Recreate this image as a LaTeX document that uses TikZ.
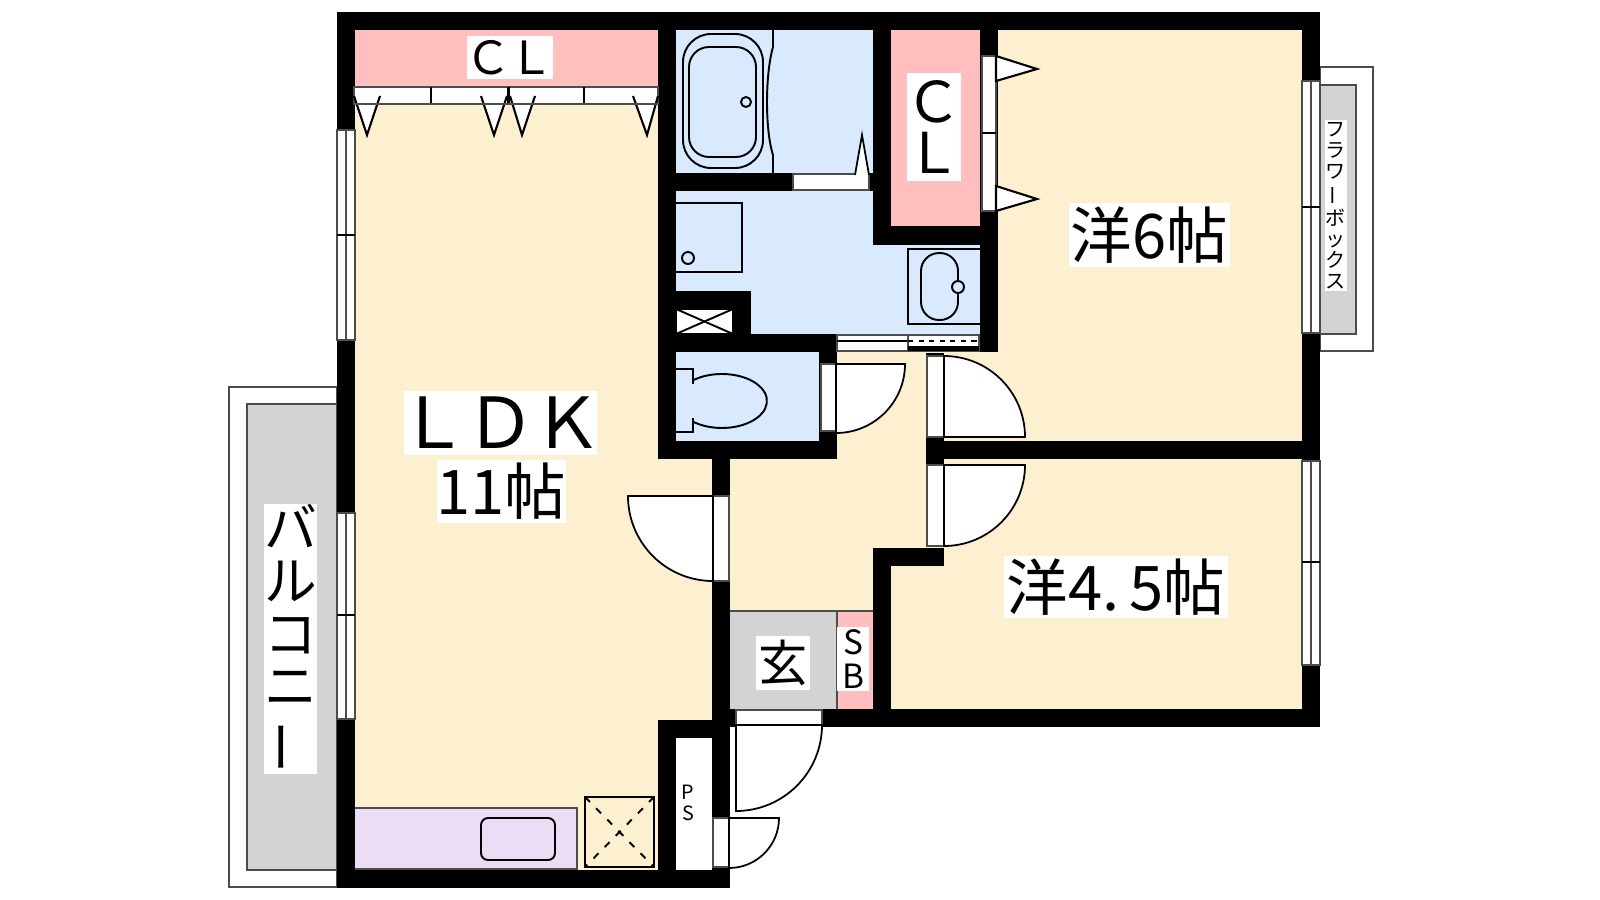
\documentclass[tikz,border=0pt]{standalone}
\usepackage{fontspec}
\setmainfont{Noto Sans CJK JP}
\usepackage{tikz}
\tikzstyle{wall} = [fill=black]
\tikzstyle{room} = [fill=roomcream]
\tikzstyle{thing} = [draw=black, line width=0.55pt]
\tikzstyle{frame} = [draw=black!70, line width=0.5pt, fill=white]
\tikzstyle{leaf} = [draw=black, line width=0.5pt, fill=white]
\tikzstyle{tag} = [fill=white, inner sep=0pt, align=center, text=black]
\definecolor{roomcream}{HTML}{FDF0D0}
\definecolor{wetblue}{HTML}{D9EAFF}
\definecolor{closetpink}{HTML}{FFBFBF}
\definecolor{floorgray}{HTML}{D3D3D3}
\definecolor{kitchenlilac}{HTML}{ECDDF6}
\newcommand{\sized}[2]{\fontsize{#1}{#2}\selectfont}
\newcommand{\tatebar}{\rotatebox[origin=c]{90}{ー}}
\begin{document}
\begin{tikzpicture}[x=0.01cm,y=-0.01cm]
		\useasboundingbox (0,0) rectangle (1600,900);
		% floors
		\foreach \xa/\ya/\xb/\yb in {355/30/712/870, 730/459/926/611, 837/352/998/441, 837/441/926/548, 998/30/1302/441, 891/459/1302/709, 926/459/1302/548}
			\fill [room] (\xa,\ya) rectangle (\xb,\yb);
		\fill [white] (676,738) rectangle (712,870);
		\fill [closetpink] (355,30) rectangle (658,87);
		\fill [closetpink] (891,30) rectangle (980,226);
		\fill [closetpink] (837,611) rectangle (873,709);
		\fill [wetblue] (676,30) rectangle (873,173);
		\fill [wetblue] (676,191) rectangle (873,334);
		\fill [wetblue] (873,245) rectangle (980,334);
		\fill [wetblue] (676,352) rectangle (819,441);
		\fill [floorgray] (730,611) rectangle (837,709);
		\draw [thing, line width=0.4pt, draw=black!70] (730,611) -- (873,611);
		\draw [thing, line width=0.4pt, draw=black!70] (837,611) -- (837,709);
		% balcony and flower box
		\draw [frame] (229,387) rectangle (337,887);
		\draw [frame, fill=floorgray] (247,404) rectangle (337,870);
		\draw [frame] (1320,67) rectangle (1373,351);
		\draw [frame, fill=floorgray] (1320,85) rectangle (1356,334);
		% walls
		\foreach \xa/\ya/\xb/\yb in {337/12/1320/30, 337/12/355/888, 1302/12/1320/727, 822/709/1320/727, 712/709/736/727, 337/870/730/888, 658/12/676/459, 658/441/837/459, 712/459/730/888, 676/173/873/191, 873/12/891/245, 873/226/980/245, 980/12/998/352, 676/291/751/352, 658/334/837/352, 819/352/837/459, 926/441/1320/459, 926/353/944/356, 926/437/944/465, 873/548/944/566, 873/548/891/727, 658/720/712/738, 658/720/676/888}
			\fill [wall] (\xa,\ya) rectangle (\xb,\yb);
		% sash windows
		\foreach \xa/\ya/\ym/\yb in {337/130/235/340, 337/513/615/719, 1302/81/207/333, 1302/461/562/665} {
			\draw [frame] (\xa,\ya) rectangle (\xa+18,\yb);
			\draw [frame] (\xa+9,\ya) -- (\xa+9,\yb);
			\draw [thing] (\xa,\ym) -- (\xa+18,\ym);
		}
		% closet doors
		\draw [frame] (354,87) rectangle (658,104);
		\draw [thing] (431,87) -- (431,104);
		\draw [thing] (584,87) -- (584,104);
		\fill [wall] (507,87) rectangle (510,104);
		\foreach \xa/\xb/\xc in {354/367/380, 481/494/507, 510/522/535, 633/647/658}
			\draw [leaf, line width=0.6pt] (\xa,96) -- (\xb,135) -- (\xc,96);
		\draw [thing, draw=black!70] (354,104) -- (658,104);
		\draw [frame] (982,56) rectangle (996,211);
		\draw [thing] (982,133) -- (996,133);
		\foreach \ya/\yb/\yc in {56/69/81, 186/199/211}
			\draw [leaf, line width=0.6pt] (996,\ya) -- (1037,\yb) -- (996,\yc) -- cycle;
		% bath
		\draw [thing, rounded corners=0.28cm] (683,34) rectangle (763,168);
		\draw [thing, rounded corners=0.2cm] (689,47) rectangle (756,157);
		\draw [thing] (746,102) circle (5);
		\draw [thing] (773,30) -- (773,47) .. controls (765,75) and (765,130) .. (773,155) -- (773,173);
		\draw [frame] (793,174) rectangle (869,190);
		\draw [leaf] (855,175) -- (862,135) -- (869,175);
		% washroom
		\draw [thing] (676,203) -- (742,203) -- (742,272) -- (676,272);
		\draw [thing] (688,258) circle (6);
		\draw [thing, fill=white] (676,309) rectangle (733,334);
		\draw [thing] (676,334) -- (733,309);
		\draw [thing] (676,309) -- (733,334);
		\draw [thing] (980,249) -- (908,249) -- (908,324) -- (980,324);
		\draw [thing, rounded corners=0.18cm] (921,253) rectangle (958,320);
		\draw [thing, fill=wetblue] (958,287) circle (6);
		\draw [frame] (837,335) rectangle (908,351);
		\draw [thing] (837,341) -- (908,341);
		\draw [frame] (908,335) rectangle (979,351);
		\fill [wall] (908,346) rectangle (979,351);
		\draw [thing, dashed, dash pattern=on 1.5pt off 1.5pt] (908,341) -- (979,341);
		% toilet
		\draw [thing] (693,380.3) arc [start angle=-130, end angle=130, x radius=45, y radius=27];
		\draw [thing] (693,384) -- (693,369) -- (676,369);
		\draw [thing] (693,418) -- (693,432) -- (676,432);
		% swing doors
		\draw [frame] (821,364) rectangle (836,431);
		\draw [leaf] (836,364) -- (905,364) arc [start angle=0, end angle=90, radius=69] -- cycle;
		\draw [frame] (927,356) rectangle (944,437);
		\draw [leaf] (944,437) -- (1025,437) arc [start angle=0, end angle=-90, radius=81] -- cycle;
		\draw [frame] (927,465) rectangle (944,546);
		\draw [leaf] (944,465) -- (1025,465) arc [start angle=0, end angle=90, radius=81] -- cycle;
		\draw [frame] (713,496) rectangle (729,581);
		\draw [leaf] (713,496) -- (628,496) arc [start angle=180, end angle=90, radius=85] -- cycle;
		\draw [frame] (736,710) rectangle (822,725);
		\draw [leaf] (736,725) -- (822,725) arc [start angle=0, end angle=90, radius=86] -- cycle;
		\draw [frame] (713,818) rectangle (729,867);
		\draw [leaf] (729,818) -- (779,818) arc [start angle=0, end angle=90, radius=50] -- cycle;
		% kitchen
		\draw [thing, draw=black!70, fill=kitchenlilac] (355,808) -- (577,808) -- (577,869) -- (355,869);
		\draw [thing, rounded corners=0.07cm] (481,818) rectangle (555,860);
		\draw [thing, line width=0.7pt] (585,797) rectangle (654,867);
		\draw [thing, dashed, dash pattern=on 2pt off 2.5pt] (585,797) -- (654,867);
		\draw [thing, dashed, dash pattern=on 2pt off 2.5pt] (654,797) -- (585,867);
		% labels
		\node (clTop) [tag, minimum width=0.86cm, minimum height=0.43cm, font=\sized{13pt}{13pt}] at (510,57.5) {\makebox[0.8cm]{Ｃ\kern-0.8ptＬ}};
		\node (clSide) [tag, minimum width=0.54cm, minimum height=1.08cm, font=\sized{16pt}{14.7pt}] at (934,127) {\makebox[0.5cm]{Ｃ}\\\makebox[0.5cm]{Ｌ}};
		\node (labelSix) [tag, minimum width=1.61cm, minimum height=0.64cm, font=\sized{17.5pt}{17.5pt}] at (1149.5,235) {洋6帖};
		\node (labelLdk) [tag, minimum width=1.93cm, minimum height=0.64cm, font=\sized{20pt}{20pt}] at (500.5,423) {\makebox[1.85cm]{Ｌ\kern-1ptＤ\kern-1ptＫ}};
		\node (labelEleven) [tag, minimum width=1.29cm, minimum height=0.63cm, font=\sized{17.5pt}{17.5pt}] at (501.5,491.5) {11帖};
		\node (labelFour) [tag, minimum width=2.24cm, minimum height=0.62cm, font=\sized{17.5pt}{17.5pt}] at (1116,587) {洋4.\kern3pt 5帖};
		\node (labelEntry) [tag, minimum width=0.54cm, minimum height=0.54cm, font=\sized{14pt}{14pt}] at (783,663) {玄};
		\node (labelSb) [tag, minimum width=0.32cm, minimum height=0.64cm, font=\sized{9.5pt}{9.5pt}] at (853,659) {S\\B};
		\node (labelPs) [inner sep=0pt, align=center, font=\sized{5.6pt}{5.8pt}] at (688,803) {P\\S};
		\node (labelBalcony) [tag, minimum width=0.53cm, minimum height=2.68cm, font=\sized{15pt}{15pt}] at (290.5,639) {バ\\ル\\コ\\ニ\\\tatebar};
		\node (labelFlower) [tag, minimum width=0.22cm, minimum height=1.71cm, font=\sized{5.7pt}{6pt}] at (1336,205.5) {フ\\ラ\\ワ\\\tatebar\\ボ\\ッ\\ク\\ス};
\end{tikzpicture}
\end{document}
